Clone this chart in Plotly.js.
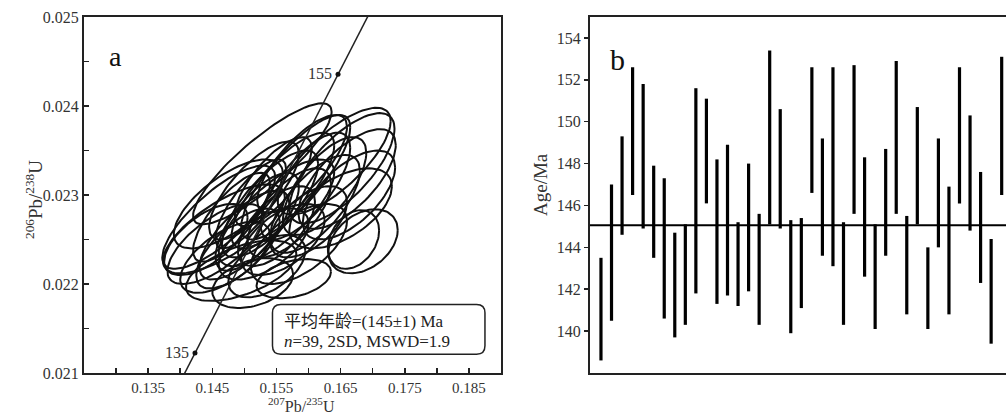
<!DOCTYPE html>
<html>
<head>
<meta charset="utf-8">
<script src="https://cdn.plot.ly/plotly-3.0.1.min.js"></script>
<style>html,body{margin:0;padding:0;background:#fff;}#chart{width:1006px;height:416px;}</style>
</head>
<body>
<div id="chart"></div>
<script>
// ---------- Panel a: concordia ----------
const concAge = [130, 135, 140, 145, 150, 155, 160];
const concX   = [0.13673, 0.14230, 0.14788, 0.15345, 0.15903, 0.16460, 0.17018];
const concY   = [0.020441, 0.021224, 0.022007, 0.022790, 0.023573, 0.024356, 0.025139];
const labelledAges = [135, 155];

// ---------- Panel a: 2SD error ellipses (centre, half-widths, correlation) ----------
const ellX   = [0.1528,0.1640,0.1652,0.1660,0.1663,0.1650,0.1685,0.1670,0.1460,0.1468,0.1475,0.1440,0.1513,0.1577,0.1495,0.1540,0.1560,0.1580,0.1595,0.1520,0.1500,0.1550,0.1570,0.1610,0.1490,0.1530,0.1480,0.1545,0.1600,0.1625,0.1510,0.1560,0.1470,0.1535,0.1585,0.1515,0.1590,0.1455,0.1550];
const ellSX  = [0.0108,0.0088,0.0082,0.0076,0.0072,0.0080,0.0054,0.0040,0.0088,0.0095,0.0085,0.0065,0.0063,0.0058,0.0086,0.0075,0.0080,0.0085,0.0070,0.0065,0.0070,0.0060,0.0065,0.0070,0.0065,0.0070,0.0060,0.0060,0.0060,0.0065,0.0055,0.0065,0.0070,0.0060,0.0075,0.0070,0.0070,0.0075,0.0090];
const ellY   = [0.02335,0.02338,0.02330,0.02318,0.02300,0.02285,0.02248,0.02250,0.02275,0.02262,0.02290,0.02250,0.02201,0.02206,0.02215,0.02290,0.02305,0.02320,0.02310,0.02270,0.02255,0.02265,0.02280,0.02290,0.02240,0.02245,0.02275,0.02315,0.02270,0.02310,0.02290,0.02250,0.02230,0.02220,0.02245,0.02305,0.02335,0.02245,0.02280];
const ellSY  = [0.00068,0.00060,0.00062,0.00056,0.00050,0.00045,0.00036,0.00033,0.00058,0.00050,0.00050,0.00040,0.00028,0.00022,0.00034,0.00060,0.00065,0.00070,0.00060,0.00055,0.00050,0.00045,0.00050,0.00055,0.00045,0.00040,0.00050,0.00050,0.00040,0.00055,0.00050,0.00040,0.00040,0.00035,0.00045,0.00055,0.00055,0.00045,0.00060];
const ellRho = [0.86,0.75,0.72,0.68,0.62,0.55,0.35,0.30,0.78,0.72,0.68,0.62,0.35,0.35,0.55,0.75,0.78,0.80,0.72,0.72,0.72,0.62,0.65,0.68,0.68,0.58,0.75,0.75,0.55,0.68,0.78,0.55,0.62,0.50,0.58,0.75,0.75,0.68,0.75];

// ---------- Panel b: 206Pb/238U age ranges per spot ----------
const spotNo = Array.from({length: 39}, (_, i) => i + 1);
const ageLo = [138.6,140.5,144.6,146.5,144.9,143.5,140.6,139.7,140.3,141.8,146.1,141.3,141.7,141.2,141.9,140.3,145.1,144.9,139.9,141.1,146.6,143.6,143.1,140.3,145.6,142.6,140.1,143.6,145.6,140.8,145.1,140.1,144.0,140.8,146.1,144.8,142.3,139.4,146.5];
const ageHi = [143.5,147.0,149.3,152.6,151.8,147.9,147.3,144.7,145.1,151.6,151.1,148.2,148.9,145.2,148.0,145.6,153.4,150.6,145.3,145.4,152.6,149.2,152.6,145.2,152.7,148.3,145.1,148.7,152.9,145.5,150.7,144.0,149.2,146.9,152.6,150.3,147.6,144.4,153.1];
const meanAge = 145.05;

// tick labels
const aXTicks = [0.135,0.145,0.155,0.165,0.175,0.185];
const aXText  = ['0.135','0.145','0.155','0.165','0.175','0.185'];
const aYTicks = [0.021,0.022,0.023,0.024,0.025];
const aYText  = ['0.021','0.022','0.023','0.024','0.025'];
const bYTicks = [140,142,144,146,148,150,152,154];

// ---------- build traces ----------
const ex = [], ey = [];
const NP = 90;
for (let i = 0; i < ellX.length; i++) {
  const r = ellRho[i], q = Math.sqrt(1 - r * r);
  for (let k = 0; k <= NP; k++) {
    const t = 2 * Math.PI * k / NP;
    ex.push(ellX[i] + ellSX[i] * Math.cos(t));
    ey.push(ellY[i] + ellSY[i] * (r * Math.cos(t) + q * Math.sin(t)));
  }
  ex.push(null); ey.push(null);
}
const ellTrace = {x: ex, y: ey, xaxis: 'x', yaxis: 'y', mode: 'lines', line: {color: '#111', width: 2}, hoverinfo: 'skip', connectgaps: false};
const concTrace = {x: concX, y: concY, xaxis: 'x', yaxis: 'y', mode: 'lines', line: {color: '#222', width: 1.5}, hoverinfo: 'skip'};
const idx = labelledAges.map(a => concAge.indexOf(a));
const dotTrace = {x: idx.map(i => concX[i]), y: idx.map(i => concY[i]), xaxis: 'x', yaxis: 'y', mode: 'markers', marker: {color: '#111', size: 5}, hoverinfo: 'skip'};

const bx = [], by = [];
for (let i = 0; i < spotNo.length; i++) { bx.push(spotNo[i], spotNo[i], null); by.push(ageLo[i], ageHi[i], null); }
const barTrace = {x: bx, y: by, xaxis: 'x2', yaxis: 'y2', mode: 'lines', line: {color: '#000', width: 3.2}, hoverinfo: 'skip', connectgaps: false};

const serif = 'Liberation Serif, Times New Roman, serif';
const tickFont = {family: serif, size: 16, color: '#333'};

// layout geometry helpers (pixel -> paper)
const MT = 17, MB = 43, H = 416, W = 1006;
const plotBottom = H - MB, plotH = plotBottom - MT;
const py = p => (plotBottom - p) / plotH;
const px = p => p / W;

// rounded result box (panel a, data coordinates)
const L = 0.15438, R = 0.1875, B = 0.021212, T = 0.021771, rx = 0.0013, ry = 0.000095;
const boxPath = `M ${L+rx},${T} L ${R-rx},${T} Q ${R},${T} ${R},${T-ry} L ${R},${B+ry} Q ${R},${B} ${R-rx},${B} L ${L+rx},${B} Q ${L},${B} ${L},${B+ry} L ${L},${T-ry} Q ${L},${T} ${L+rx},${T} Z`;

const layout = {
  width: W, height: H,
  margin: {l: 0, r: 0, t: MT, b: MB},
  paper_bgcolor: '#fff', plot_bgcolor: '#fff',
  showlegend: false,
  xaxis: {domain: [px(84), px(501)], range: [0.125, 0.190], anchor: 'y',
    showline: true, mirror: true, linecolor: '#222', linewidth: 2,
    ticks: 'inside', ticklen: 5, tickwidth: 1.5, tickcolor: '#222',
    tickmode: 'array', tickvals: aXTicks, ticktext: aXText, tickfont: {family: serif, size: 15, color: '#333'},
    minor: {tickmode: 'linear', tick0: 0.125, dtick: 0.005, ticks: 'inside', ticklen: 5, tickwidth: 1.5, tickcolor: '#222', showgrid: false},
    showgrid: false, zeroline: false},
  yaxis: {domain: [0, 1], range: [0.021, 0.025], anchor: 'x',
    showline: true, mirror: true, linecolor: '#222', linewidth: 2,
    ticks: 'inside', ticklen: 5, tickwidth: 1.5, tickcolor: '#222',
    tickmode: 'array', tickvals: aYTicks, ticktext: aYText, tickfont: tickFont,
    minor: {tickmode: 'linear', tick0: 0.021, dtick: 0.0005, ticks: 'inside', ticklen: 5, tickwidth: 1.5, tickcolor: '#222', showgrid: false},
    showgrid: false, zeroline: false},
  xaxis2: {domain: [px(590), 1], range: [-0.04, 39.41], anchor: 'y2',
    showline: true, mirror: true, linecolor: '#222', linewidth: 2,
    ticks: '', showticklabels: false, showgrid: false, zeroline: false},
  yaxis2: {domain: [0, 1], range: [138, 155], anchor: 'x2',
    showline: true, mirror: false, linecolor: '#222', linewidth: 2,
    ticks: 'outside', ticklen: 4, tickwidth: 1.5, tickcolor: '#222',
    tickmode: 'array', tickvals: bYTicks, tickfont: tickFont,
    showgrid: false, zeroline: false},
  shapes: [
    {type: 'line', xref: 'x2 domain', yref: 'y2', x0: 0, x1: 1, y0: meanAge, y1: meanAge, line: {color: '#000', width: 2}},
    {type: 'path', xref: 'x', yref: 'y', path: boxPath, line: {color: '#222', width: 1.5}}
  ],
  annotations: [
    {xref: 'paper', yref: 'paper', x: px(107), y: py(39), text: 'a', showarrow: false, font: {family: serif, size: 28, color: '#111'}},
    {xref: 'paper', yref: 'paper', x: px(617), y: py(41), text: 'b', showarrow: false, font: {family: serif, size: 30, color: '#111'}},
    {xref: 'x', yref: 'y', x: concX[idx[1]], y: concY[idx[1]], text: String(labelledAges[1]), showarrow: false, xanchor: 'right', xshift: -4, yshift: 1, font: {family: serif, size: 16, color: '#333'}},
    {xref: 'x', yref: 'y', x: concX[idx[0]], y: concY[idx[0]], text: String(labelledAges[0]), showarrow: false, xanchor: 'right', xshift: -4, yshift: 1, font: {family: serif, size: 16, color: '#333'}},
    {xref: 'x', yref: 'y', x: 0.15594, y: 0.021581, text: '平均年龄=(145±1) Ma', showarrow: false, xanchor: 'left', font: {family: serif + ', Noto Sans CJK SC', size: 17, color: '#222'}},
    {xref: 'x', yref: 'y', x: 0.15594, y: 0.021358, text: '<i>n</i>=39, 2SD, MSWD=1.9', showarrow: false, xanchor: 'left', font: {family: serif, size: 17, color: '#222'}},
    {xref: 'x', yref: 'paper', x: 0.15898, y: 0, yanchor: 'bottom', yshift: -MB, borderpad: 0, text: '<sup>207</sup>Pb/<sup>235</sup>U', showarrow: false, font: {family: serif, size: 16, color: '#333'}},
    {xref: 'paper', yref: 'paper', x: px(20), y: py(200), textangle: -90, text: '<sup>206</sup>Pb/<sup>238</sup>U', showarrow: false, font: {family: serif, size: 19, color: '#333'}},
    {xref: 'paper', yref: 'paper', x: px(540), y: py(185), textangle: -90, text: 'Age/Ma', showarrow: false, font: {family: serif, size: 19, color: '#333'}}
  ]
};

Plotly.newPlot('chart', [ellTrace, concTrace, dotTrace, barTrace], layout, {displayModeBar: false, staticPlot: true});
</script>
</body>
</html>
